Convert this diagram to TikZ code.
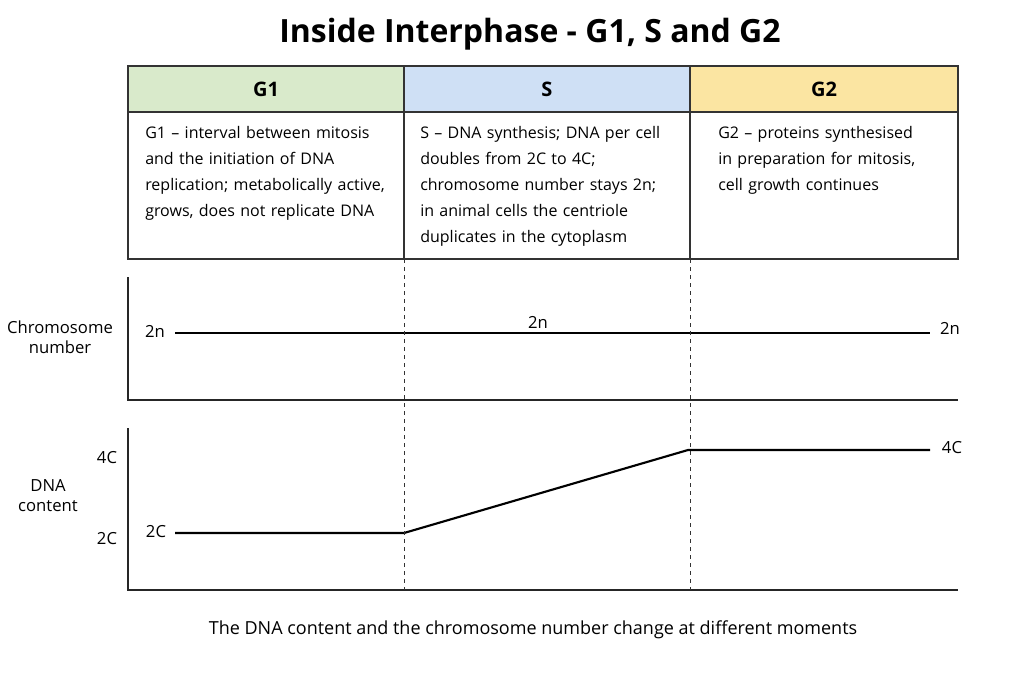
\documentclass[tikz,border=0pt]{standalone}
\usepackage{fontspec}
\setmainfont{Open Sans}
\usetikzlibrary{calc}
\definecolor{gonec}{HTML}{D9EACB}
\definecolor{sc}{HTML}{CFE0F5}
\definecolor{gtwoc}{HTML}{FBE5A2}
\tikzset{
  hdr/.style={font=\bfseries\fontsize{15}{18}\selectfont},
  cell/.style={draw=black!80, thick},
  txt/.style={anchor=north west, align=left, text width=190pt, inner sep=0pt, font=\fontsize{12}{19.5}\selectfont},
  lbl/.style={font=\fontsize{12.5}{15}\selectfont},
  axis/.style={thick, black!85},
  curve/.style={line width=1.6pt},
  guide/.style={dashed, black!80}
}
\begin{document}
\begin{tikzpicture}[x=0.75pt, y=-0.75pt]
    \useasboundingbox (0,0) rectangle (1024,683);
    \node[font=\bfseries\fontsize{24}{28}\selectfont] (title) at (530,34) {Inside Interphase - G1, S and G2};

    % table
    \filldraw[cell, fill=gonec] (128,66) rectangle (404,112);
    \filldraw[cell, fill=sc] (404,66) rectangle (690,112);
    \filldraw[cell, fill=gtwoc] (690,66) rectangle (958,112);
    \draw[cell] (128,112) rectangle (404,259) (404,112) rectangle (690,259) (690,112) rectangle (958,259);
    \node[hdr] (hg1) at (266,89) {G1};
    \node[hdr] (hs) at (547,89) {S};
    \node[hdr] (hg2) at (824,89) {G2};
    \node[txt] (tg1) at (145,126) {G1 – interval between mitosis\\and the initiation of DNA\\replication; metabolically active,\\grows, does not replicate DNA};
    \node[txt] (ts) at (420,126) {S – DNA synthesis; DNA per cell\\doubles from 2C to 4C;\\chromosome number stays 2n;\\in animal cells the centriole\\duplicates in the cytoplasm};
    \node[txt] (tg2) at (718,126) {G2 – proteins synthesised\\in preparation for mitosis,\\cell growth continues};

    % chromosome number panel
    \draw[axis] (128,277) -- (128,400) -- (958,400);
    \node[lbl, align=center] (chr) at (60,337) {Chromosome\\number};
    \node[lbl] (n1) at (155,331) {2n};
    \node[lbl] (n2) at (538,322) {2n};
    \node[lbl] (n3) at (950,328) {2n};
    \coordinate (c1) at (175,333);
    \coordinate (c2) at (930,333);
    \draw[curve] (c1) -- (c2);

    % DNA content panel
    \draw[axis] (128,428) -- (128,590) -- (958,590);
    \node[lbl, align=center] (dna) at (48,496) {DNA\\content};
    \node[lbl] (y4) at (107,458) {4C};
    \node[lbl] (y2) at (107,539) {2C};
    \node[lbl] (d1) at (156,532) {2C};
    \node[lbl] (d2) at (952,448) {4C};
    \coordinate (p1) at (175,533);
    \coordinate (p2) at (404,533);
    \coordinate (p3) at (688,450);
    \coordinate (p4) at (930,450);
    \draw[curve] (p1) -- (p2) -- (p3) -- (p4);

    % phase boundaries
    \foreach \x in {404,690}
        \draw[guide] (\x,259) -- (\x,590);

    \node[font=\fontsize{13.5}{16}\selectfont] (cap) at (533,630) {The DNA content and the chromosome number change at different moments};
\end{tikzpicture}
\end{document}
